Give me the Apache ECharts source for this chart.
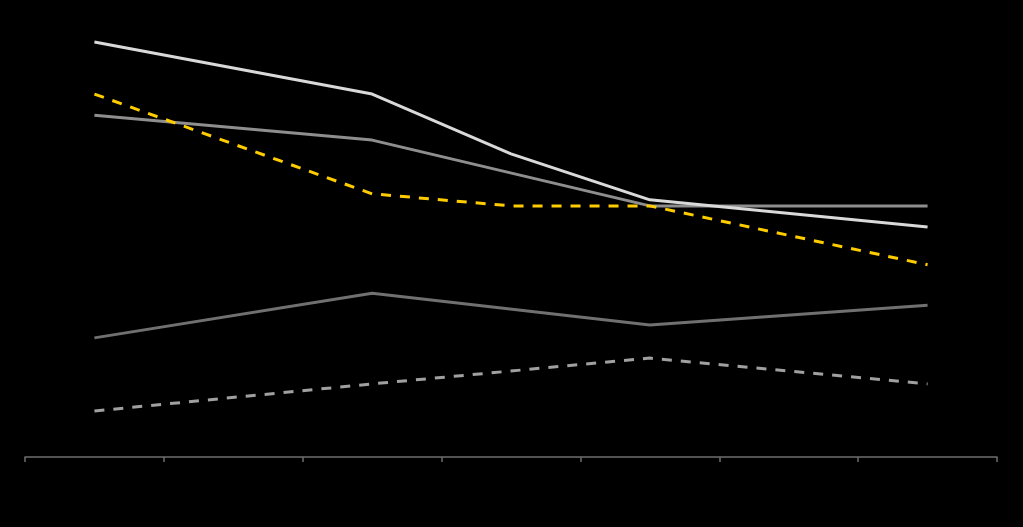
<!DOCTYPE html>
<html>
<head>
<meta charset="utf-8">
<script src="https://cdn.jsdelivr.net/npm/echarts@6/dist/echarts.min.js"></script>
<style>html,body{margin:0;padding:0;background:#000;}#c{width:1023px;height:527px;}</style>
</head>
<body>
<div id="c"></div>
<script>
var categories = ['1', '2', '3', '4', '5', '6', '7'];
var seriesWhite = [96.5, null, 84.4, 70.5, 59.8, null, 53.5];
var seriesGray = [79.5, null, 73.7, null, 58.4, null, 58.4];
var seriesDarkGray = [27.7, null, 38.1, null, 30.7, null, 35.3];
var seriesGrayDashed = [10.7, null, 17.0, null, 23.0, null, 17.0];
var seriesYellow = [84.4, null, 61.2, 58.4, 58.4, null, 44.7];

var chart = echarts.init(document.getElementById('c'));
function line(data, color, type) {
  return {
    type: 'line', data: data, connectNulls: true, symbol: 'none', silent: true,
    lineStyle: { color: color, width: 3, type: type || 'solid' }
  };
}
chart.setOption({
  backgroundColor: '#000',
  animation: false,
  grid: { left: 25, right: 26, top: 27, bottom: 70 },
  xAxis: {
    type: 'category', data: categories, boundaryGap: true,
    axisLine: { show: true, lineStyle: { color: '#6e6e6e', width: 1.5 } },
    axisTick: { show: true, alignWithLabel: false, interval: 0, length: 5, lineStyle: { color: '#6e6e6e', width: 1.5 } },
    axisLabel: { show: false }
  },
  yAxis: {
    type: 'value', min: 0, max: 100,
    axisLine: { show: false }, axisTick: { show: false },
    axisLabel: { show: false }, splitLine: { show: false }
  },
  series: [
    line(seriesGrayDashed, '#a0a0a0', [10, 9]),
    line(seriesDarkGray, '#707070'),
    line(seriesGray, '#8e8e8e'),
    line(seriesWhite, '#d9d9d9'),
    line(seriesYellow, '#ffcc00', [10, 9])
  ]
});
</script>
</body>
</html>
